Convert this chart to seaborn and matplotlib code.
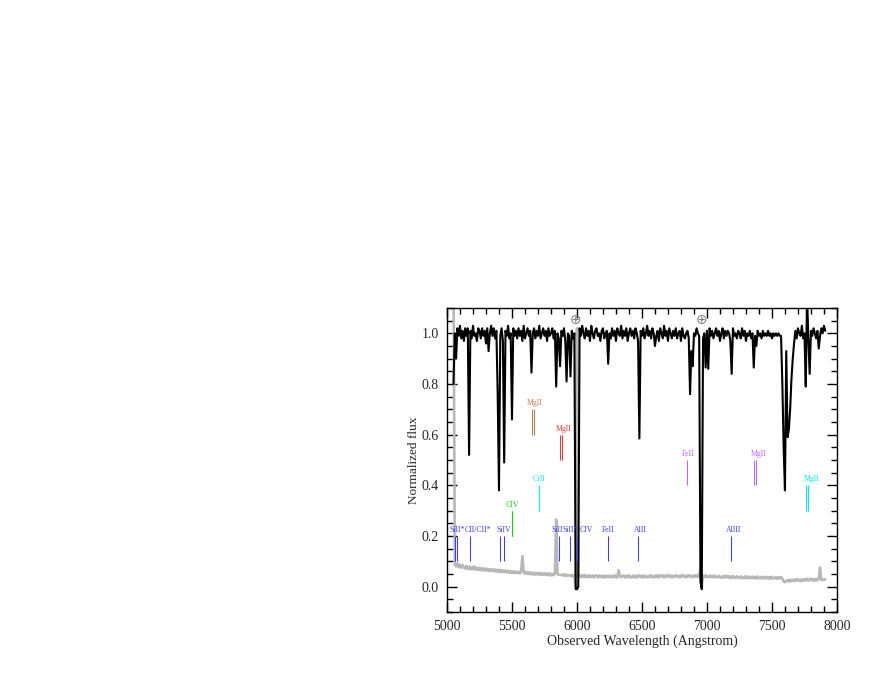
import numpy as np
import matplotlib
matplotlib.use("Agg")
import matplotlib.pyplot as plt
from matplotlib.ticker import MultipleLocator
import seaborn as sns

# wavelength grid of the spectrum (Angstrom), 10 A steps
wave = np.arange(5050, 7911, 10)

# normalized flux, one row per 100 A
flux = [
    0.80, 1.00, 0.90, 1.02, 0.99, 1.03, 0.98, 1.01, 0.97, 1.02,
    0.99, 1.02, 0.52, 1.01, 0.98, 1.03, 0.99, 1.00, 0.97, 1.02,
    1.01, 0.98, 1.02, 0.99, 1.01, 0.96, 1.02, 0.93, 1.00, 1.03,
    0.99, 1.02, 0.98, 1.01, 0.76, 0.38, 0.99, 1.02, 0.97, 0.49,
    1.01, 0.99, 1.03, 0.98, 1.00, 0.66, 1.02, 0.99, 1.01, 0.98,
    1.02, 0.99, 1.01, 0.97, 1.03, 0.98, 1.00, 1.02, 0.99, 1.01,
    0.845, 1.00, 1.02, 0.98, 1.01, 0.99, 1.03, 0.98, 1.00, 1.02,
    0.99, 1.01, 0.97, 1.02, 0.99, 1.00, 1.02, 0.98, 1.01, 0.79,
    1.00, 0.98, 0.87, 1.01, 0.99, 1.02, 0.97, 0.81, 1.00, 0.99,
    0.83, 1.01, 0.98, 1.00, -0.01, -0.01, 0.00, 1.02, 0.99, 1.03,
    1.00, 0.98, 1.02, 0.99, 1.01, 0.97, 1.03, 1.00, 0.98, 1.01,
    1.02, 0.99, 1.00, 0.97, 1.01, 1.02, 0.98, 1.00, 1.01, 0.88,
    1.00, 0.98, 1.02, 0.99, 1.01, 0.97, 1.02, 1.00, 0.99, 1.03,
    0.98, 1.01, 0.99, 1.02, 0.97, 1.00, 1.02, 0.99, 1.01, 0.98,
    1.02, 1.00, 0.97, 0.585, 1.01, 0.99, 1.02, 0.98, 1.00, 1.03,
    0.99, 1.01, 0.98, 1.02, 1.00, 0.95, 0.99, 1.01, 0.97, 1.02,
    1.00, 0.98, 1.03, 0.99, 1.01, 0.97, 1.02, 1.00, 0.98, 1.01,
    0.99, 1.02, 0.98, 1.00, 1.01, 0.97, 1.02, 0.99, 0.98, 1.00,
    1.01, 0.98, 0.76, 0.93, 0.87, 1.00, 0.99, 1.02, 1.00, 0.99,
    0.02, -0.01, 0.98, 1.00, 0.865, 1.01, 0.86, 1.02, 0.99, 1.01,
    0.98, 1.00, 1.02, 0.99, 1.01, 0.97, 1.00, 1.02, 0.98, 1.01,
    0.99, 1.01, 1.00, 0.97, 0.84, 1.02, 0.99, 1.00, 0.98, 1.01,
    1.00, 0.98, 1.02, 0.99, 1.01, 0.97, 1.00, 0.99, 1.01, 0.98,
    1.00, 0.865, 0.99, 0.95, 1.01, 0.99, 1.00, 0.98, 1.01, 0.99,
    1.00, 0.99, 1.01, 0.99, 1.00, 0.98, 1.00, 0.99, 1.00, 0.99,
    1.00, 0.99, 0.99, 0.80, 0.55, 0.38, 0.93, 0.59, 0.62, 0.70,
    0.82, 0.90, 0.96, 1.01, 0.98, 1.02, 1.00, 0.99, 1.03, 0.98,
    1.00, 0.79, 1.15, 0.98, 0.84, 1.01, 0.99, 1.02, 1.00, 0.98,
    1.01, 0.94, 0.99, 1.02, 1.00, 1.03, 1.01,
]

# error spectrum (grey)
error = [
    1.30, 0.088, 0.080, 0.092, 0.077, 0.087, 0.074, 0.085, 0.076, 0.072,
    0.082, 0.070, 0.079, 0.068, 0.077, 0.069, 0.080, 0.067, 0.075, 0.066,
    0.074, 0.065, 0.073, 0.063, 0.072, 0.064, 0.071, 0.061, 0.070, 0.062,
    0.069, 0.060, 0.068, 0.059, 0.067, 0.058, 0.066, 0.057, 0.065, 0.058,
    0.064, 0.056, 0.063, 0.055, 0.062, 0.054, 0.061, 0.053, 0.060, 0.054,
    0.059, 0.052, 0.060, 0.120, 0.057, 0.051, 0.058, 0.050, 0.057, 0.049,
    0.056, 0.048, 0.055, 0.047, 0.054, 0.048, 0.055, 0.046, 0.053, 0.047,
    0.054, 0.046, 0.052, 0.045, 0.053, 0.044, 0.051, 0.045, 0.052, 0.265,
    0.049, 0.047, 0.047, 0.046, 0.048, 0.042, 0.049, 0.043, 0.045, 0.044,
    0.046, 0.040, 0.047, 0.041, 0.000, 1.020, 0.039, 0.046, 0.038, 0.045,
    0.039, 0.046, 0.038, 0.044, 0.037, 0.045, 0.038, 0.044, 0.036, 0.043,
    0.045, 0.037, 0.044, 0.038, 0.043, 0.036, 0.044, 0.037, 0.043, 0.038,
    0.044, 0.036, 0.043, 0.037, 0.045, 0.038, 0.036, 0.065, 0.043, 0.037,
    0.042, 0.044, 0.036, 0.043, 0.037, 0.045, 0.038, 0.036, 0.043, 0.037,
    0.044, 0.036, 0.042, 0.045, 0.037, 0.043, 0.036, 0.044, 0.038, 0.037,
    0.043, 0.037, 0.045, 0.038, 0.036, 0.044, 0.038, 0.046, 0.037, 0.043,
    0.045, 0.038, 0.044, 0.037, 0.043, 0.046, 0.038, 0.044, 0.037, 0.043,
    0.038, 0.045, 0.043, 0.037, 0.044, 0.038, 0.046, 0.043, 0.037, 0.044,
    0.038, 0.045, 0.043, 0.037, 0.044, 0.038, 0.045, 0.039, 0.046, 0.038,
    0.075, 0.000, 0.044, 0.038, 0.045, 0.039, 0.037, 0.044, 0.038, 0.043,
    0.037, 0.044, 0.038, 0.036, 0.043, 0.037, 0.035, 0.042, 0.036, 0.043,
    0.036, 0.042, 0.035, 0.041, 0.034, 0.042, 0.036, 0.034, 0.041, 0.035,
    0.034, 0.041, 0.035, 0.033, 0.040, 0.034, 0.041, 0.033, 0.039, 0.034,
    0.040, 0.033, 0.039, 0.032, 0.040, 0.034, 0.033, 0.039, 0.032, 0.038,
    0.033, 0.039, 0.032, 0.038, 0.031, 0.039, 0.033, 0.032, 0.038, 0.031,
    0.037, 0.032, 0.038, 0.031, 0.020, 0.018, 0.022, 0.026, 0.020, 0.027,
    0.021, 0.028, 0.022, 0.029, 0.023, 0.030, 0.024, 0.022, 0.029, 0.023,
    0.030, 0.024, 0.031, 0.023, 0.029, 0.032, 0.024, 0.030, 0.023, 0.031,
    0.025, 0.032, 0.075, 0.026, 0.028, 0.027, 0.029,
]

# absorption system line markers: wavelength, bottom of tick, system
tick_wave = [5064, 5077, 5175, 5405, 5438, 5859, 5949, 6003, 6236, 6472, 7187,
             5497, 5502, 5708, 5656, 5667, 5872, 5885, 6849, 7362, 7377,
             7762, 7779]
tick_low = [0.10] * 11 + [0.20, 0.20, 0.30, 0.60, 0.60, 0.50, 0.50,
                          0.40, 0.40, 0.40, 0.30, 0.30]
tick_sys = ["b"] * 11 + ["g", "g", "c", "o", "o", "r", "r",
                         "p", "p", "p", "c", "c"]

label_text = ["SiII*", "CII/CII*", "SiIV", "SiII", "SiII*", "CIV", "FeII",
              "AlII", "AlIII", "CIV", "CrII", "MgII", "MgII", "FeII", "MgII",
              "MgII"]
label_wave = [5076, 5240, 5437, 5848, 5950, 6070, 6242, 6485, 7206, 5500,
              5708, 5677, 5897, 6855, 7401, 7802]
label_low = [0.20] * 9 + [0.30, 0.40, 0.70, 0.60, 0.50, 0.50, 0.40]
label_sys = ["b"] * 9 + ["g", "c", "o", "r", "p", "p", "c"]

# telluric markers
telluric_wave = [5992, 6962]

sys_colors = {"b": "#3c3cff", "g": "#00e000", "c": "#00f0f0",
              "o": "#c87850", "r": "#ff3030", "p": "#c060ff"}

sns.set_theme(style="ticks")
plt.rcParams["font.family"] = ["Liberation Serif", "DejaVu Serif"]

fig = plt.figure(figsize=(8.72, 6.74), dpi=100)
ax = fig.add_axes([0.5126, 0.092, 0.4472, 0.451])

sns.lineplot(x=wave, y=error, ax=ax, color="#b8b8b8", lw=1.9,
             sort=False, estimator=None)
sns.lineplot(x=wave, y=flux, ax=ax, color="black", lw=1.5,
             sort=False, estimator=None)

for w, lo, s in zip(tick_wave, tick_low, tick_sys):
    ax.vlines(w, lo, lo + 0.10, color=sys_colors[s], lw=0.75)
for t, w, lo, s in zip(label_text, label_wave, label_low, label_sys):
    ax.text(w, lo + 0.008, t, color=sys_colors[s], fontsize=5.6,
            ha="center", va="bottom")
for w in telluric_wave:
    ax.text(w, 1.052, "\u2295", color="#808080", fontsize=10,
            ha="center", va="center", family=["DejaVu Sans"])

ax.set_xlim(5000, 8000)
ax.set_ylim(-0.1, 1.1)
ax.xaxis.set_major_locator(MultipleLocator(500))
ax.xaxis.set_minor_locator(MultipleLocator(100))
ax.yaxis.set_major_locator(MultipleLocator(0.2))
ax.yaxis.set_minor_locator(MultipleLocator(0.05))
ax.tick_params(which="both", direction="in", top=True, right=True,
               labelsize=10, width=1, color="black")
ax.tick_params(which="major", length=7, pad=6)
ax.tick_params(which="minor", length=4)
for sp in ax.spines.values():
    sp.set_linewidth(1)
    sp.set_color("black")
ax.set_xlabel("Observed Wavelength (Angstrom)", fontsize=10, labelpad=1)
ax.set_ylabel("Normalized flux", fontsize=9.5, labelpad=1)

fig.savefig("out.png", dpi=100)
